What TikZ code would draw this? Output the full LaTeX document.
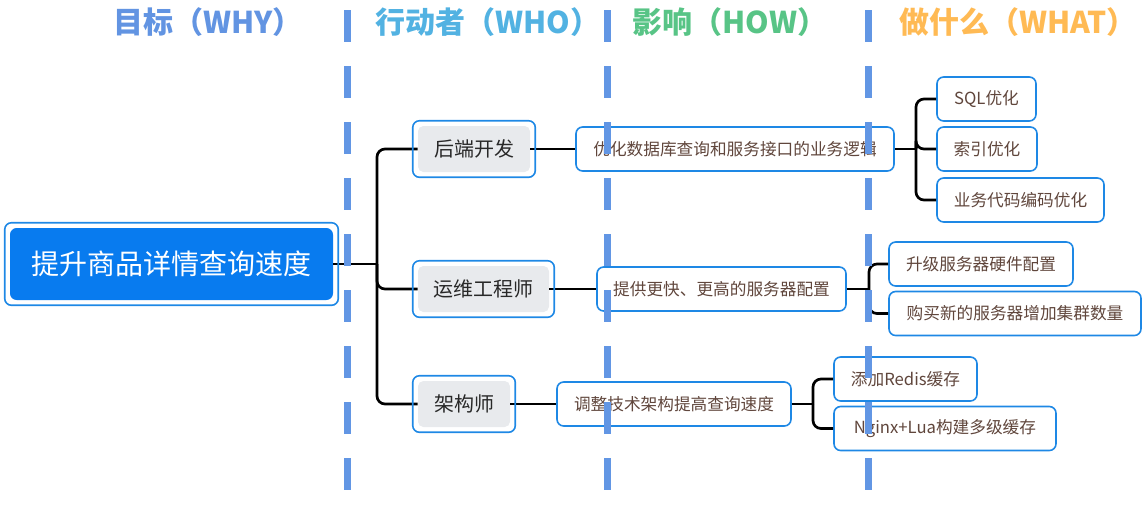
\documentclass[tikz,border=0pt]{standalone}
\usepackage{fontspec}
\setmainfont{Noto Sans CJK SC}

\definecolor{boxblue}{RGB}{30,136,229}
\definecolor{rootblue}{RGB}{8,123,239}
\definecolor{actgray}{RGB}{232,234,237}
\definecolor{laneblue}{RGB}{98,150,228}
\definecolor{whyblue}{RGB}{98,148,226}
\definecolor{whoblue}{RGB}{82,178,226}
\definecolor{howgreen}{RGB}{88,196,134}
\definecolor{whatorange}{RGB}{255,186,84}
\definecolor{leaftext}{RGB}{96,70,60}
\definecolor{acttext}{RGB}{40,40,40}

\tikzset{
  goalbox/.style={fill=rootblue, rounded corners=5pt, text=white, font=\fontsize{21}{25}\selectfont, inner sep=0pt, minimum height=54pt},
  actorbox/.style={fill=actgray, rounded corners=4pt, text=acttext, font=\fontsize{15}{18}\selectfont, inner sep=0pt, minimum height=34.5pt},
  ringbox/.style={draw=boxblue, line width=1.2pt, rounded corners=5pt},
  leafbox/.style={draw=boxblue, line width=1.2pt, fill=white, rounded corners=5pt, text=leaftext, font=\fontsize{12.5}{15}\selectfont, inner sep=0pt, minimum height=33pt},
  link/.style={draw=black, line width=2pt, rounded corners=6pt},
  lane/.style={draw=laneblue, line width=5.25pt, dash pattern=on 24pt off 18pt},
  head/.style={font=\bfseries\fontsize{22.5}{27}\selectfont, inner sep=0pt},
}

\begin{document}
\begin{tikzpicture}[x=0.75pt,y=0.75pt,yscale=-1,xscale=1]
\useasboundingbox (0,0) rectangle (1147,508);

% Headers
\node [head, text=whyblue] (why) at (208,22) {目标（WHY）};
\node [head, text=whoblue] (who) at (488,22) {行动者（WHO）};
\node [head, text=howgreen] (how) at (730,22) {影响（HOW）};
\node [head, text=whatorange] (what) at (1018,22) {做什么（WHAT）};

% Goal
\node [goalbox, minimum width=242.25pt] (goal) at (171.5,264) {提升商品详情查询速度};

% Actors
\node [actorbox, minimum width=84pt] (backend) at (474,149) {后端开发};
\node [actorbox, minimum width=98.25pt] (ops) at (483.5,289) {运维工程师};
\node [actorbox, minimum width=69pt] (arch) at (464,404) {架构师};

% Impacts
\node [leafbox, minimum width=238.5pt] (impdb) at (735,149) {优化数据库查询和服务接口的业务逻辑};
\node [leafbox, minimum width=186.75pt] (impsrv) at (721.5,289) {提供更快、更高的服务器配置};
\node [leafbox, minimum width=175.5pt] (imparch) at (674,404) {调整技术架构提高查询速度};

% Deliverables
\node [leafbox, minimum width=74.25pt] (sql) at (986.5,99) {SQL优化};
\node [leafbox, minimum width=75pt] (index) at (987,149) {索引优化};
\node [leafbox, minimum width=125.25pt] (code) at (1020.5,200) {业务代码编码优化};
\node [leafbox, minimum width=138pt] (hw) at (981,264) {升级服务器硬件配置};
\node [leafbox, minimum width=189pt] (cluster) at (1015,313.5) {购买新的服务器增加集群数量};
\node [leafbox, minimum width=107.25pt] (redis) at (905.5,379) {添加Redis缓存};
\node [leafbox, minimum width=166.5pt] (nginx) at (945,428.5) {Nginx+Lua构建多级缓存};

% Hubs
\coordinate (hubgoal) at (377,264);
\coordinate (hubdb) at (916,149);
\coordinate (hubsrv) at (869,289);
\coordinate (hubarch) at (813,404);

%Straight Lines
\draw [link] (goal.east) -- (hubgoal);
\foreach \n in {backend,ops,arch}
  \draw [link] (hubgoal) |- (\n.west);
\draw [link] (backend.east) -- (impdb.west);
\draw [link] (ops.east) -- (impsrv.west);
\draw [link] (arch.east) -- (imparch.west);
\draw [link] (impdb.east) -- (hubdb);
\foreach \n in {sql,index,code}
  \draw [link] (hubdb) |- (\n.west);
\draw [link] (impsrv.east) -- (hubsrv);
\foreach \n in {hw,cluster}
  \draw [link] (hubsrv) |- (\n.west);
\draw [link] (imparch.east) -- (hubarch);
\foreach \n in {redis,nginx}
  \draw [link] (hubarch) |- (\n.west);

% Outer rings
\foreach \n in {goal,backend,ops,arch}
  \draw [ringbox] ([shift={(-5,-5)}]\n.north west) rectangle ([shift={(5,5)}]\n.south east);

% Lanes
\foreach \lx in {347,607,868}
  \draw [lane] (\lx,10) -- (\lx,490);

\end{tikzpicture}
\end{document}
